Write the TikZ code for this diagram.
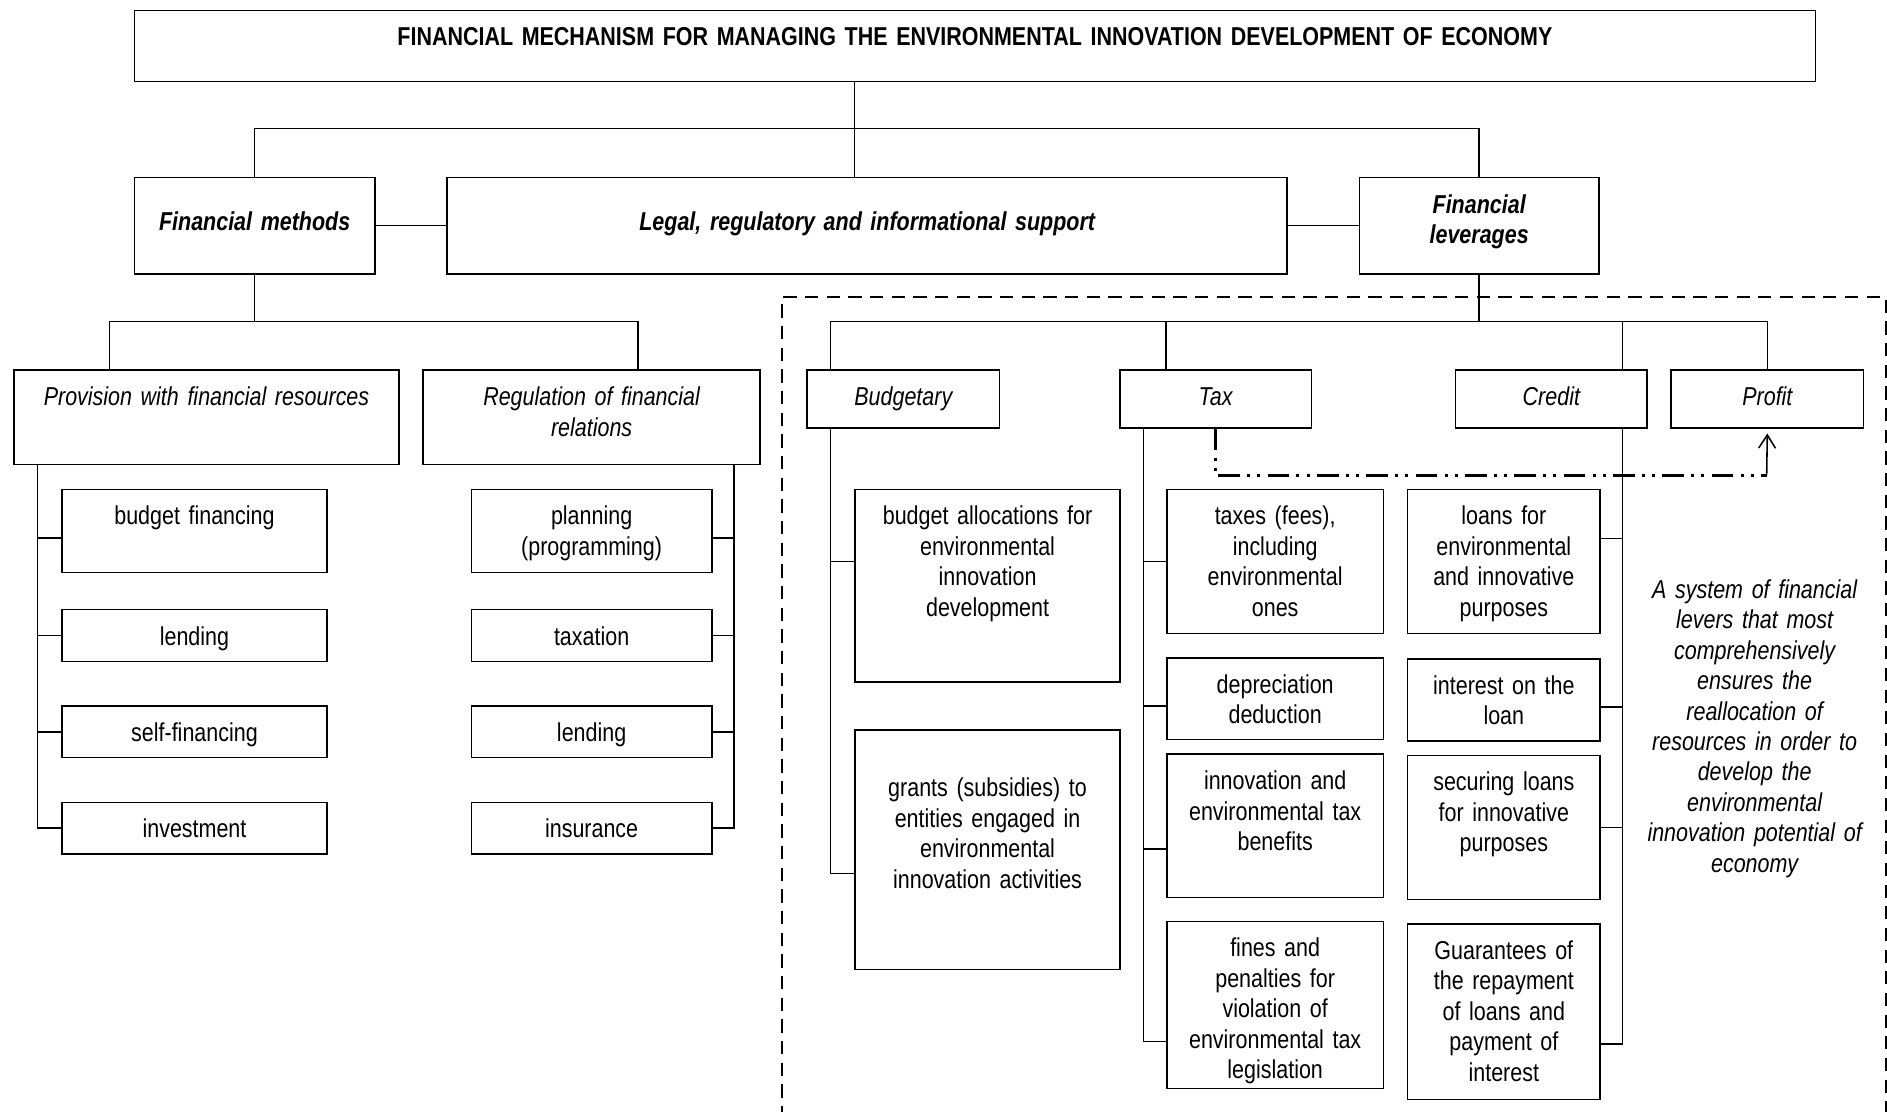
\documentclass[tikz,border=0pt]{standalone}
\usepackage{fontspec}
\setmainfont{Liberation Sans}[FakeStretch=0.83]
\usetikzlibrary{arrows.meta}

\tikzset{
  cell/.style={draw, anchor=north west, inner sep=0pt, align=center, text height=29.5pt},
  head/.style={cell, font=\bfseries\itshape},
  kind/.style={cell, font=\itshape},
  note/.style={anchor=north, inner sep=0pt, align=center, text width=220pt, text height=29.5pt, font=\itshape},
  zone/.style={line width=1.3pt, dash pattern=on 11pt off 7pt},
  leverlink/.style={line width=2.2pt, dash pattern=on 18pt off 6pt on 2.5pt off 6pt on 2.5pt off 6pt},
  leverhead/.style={line width=1.3pt, -{Straight Barb[length=11pt,width=14pt]}, shorten >=4pt},
}

\begin{document}
\fontsize{21.5}{25.3}\selectfont
\begin{tikzpicture}[x=1pt, y=-1pt, line width=1.2pt]
\useasboundingbox (0,0) rectangle (1568,924);
\clip (0,0) rectangle (1568,924);

% region of the financial leverages
\draw[zone] (650,930) -- (650,247) -- (1567,247) -- (1567,930);

% top
\node[cell, font=\bfseries, text width=1397pt, text depth=29.5pt] (mech) at (111,8) {FINANCIAL MECHANISM FOR MANAGING THE ENVIRONMENTAL INNOVATION DEVELOPMENT OF ECONOMY};
\node[head, text width=200pt, text height=44pt, text depth=36pt] (methods) at (111,147) {Financial methods};
\node[head, text width=698pt, text height=44pt, text depth=36pt] (support) at (371,147) {Legal, regulatory and informational support};
\node[head, text width=199pt, text depth=50.5pt] (levers) at (1129,147) {Financial\\leverages};

% financial methods
\node[kind, text width=320pt, text depth=49pt] (provision) at (11,307) {Provision with financial resources};
\node[kind, text width=280pt, text depth=49pt] (regulation) at (351,307) {Regulation of financial\\relations};

\node[cell, text width=220pt, text depth=39.5pt] (budgetfin) at (51,406) {budget financing};
\node[cell, text width=220pt, text depth=13.5pt] (lendingA) at (51,506) {lending};
\node[cell, text width=220pt, text depth=13.5pt] (selffin) at (51,586) {self-financing};
\node[cell, text width=220pt, text depth=13.5pt] (invest) at (51,666) {investment};

\node[cell, text width=200pt, text depth=39.5pt] (planning) at (391,406) {planning\\(programming)};
\node[cell, text width=200pt, text depth=13.5pt] (taxation) at (391,506) {taxation};
\node[cell, text width=200pt, text depth=13.5pt] (lendingB) at (391,586) {lending};
\node[cell, text width=200pt, text depth=13.5pt] (insurance) at (391,666) {insurance};

% financial leverages
\node[kind, text width=160pt, text depth=18.5pt] (budgetary) at (670,307) {Budgetary};
\node[kind, text width=159pt, text depth=18.5pt] (tax) at (930,307) {Tax};
\node[kind, text width=159pt, text depth=18.5pt] (credit) at (1209,307) {Credit};
\node[kind, text width=160pt, text depth=18.5pt] (profit) at (1388,307) {Profit};

\node[cell, text width=220pt, text depth=130.5pt] (allocations) at (710,406) {budget allocations for\\environmental\\innovation\\development};
\node[cell, text width=220pt, text height=55.5pt, text depth=143.5pt] (grants) at (710,606) {grants (subsidies) to\\entities engaged in\\environmental\\innovation activities};

\node[cell, text width=180pt, text depth=90.5pt] (taxes) at (969,406) {taxes (fees),\\including\\environmental\\ones};
\node[cell, text width=180pt, text depth=38.5pt] (depreciation) at (969,546) {depreciation\\deduction};
\node[cell, text width=180pt, text depth=89.5pt] (benefits) at (969,626) {innovation and\\environmental tax\\benefits};
\node[cell, text width=180pt, text depth=109.5pt] (fines) at (969,765) {fines and\\penalties for\\violation of\\environmental tax\\legislation};

\node[cell, text width=160pt, text depth=90.5pt] (loans) at (1169,406) {loans for\\environmental\\and innovative\\purposes};
\node[cell, text width=160pt, text depth=38.5pt] (interest) at (1169,547) {interest on the\\loan};
\node[cell, text width=160pt, text depth=90.5pt] (securing) at (1169,627) {securing loans\\for innovative\\purposes};
\node[cell, text width=160pt, text depth=116.5pt] (guarantees) at (1169,767) {Guarantees of\\the repayment\\of loans and\\payment of\\interest};

\node[note] (sysnote) at (1458,467) {A system of financial\\levers that most\\comprehensively\\ensures the\\reallocation of\\resources in order to\\develop the\\environmental\\innovation potential of\\economy};

% upper links
\coordinate (hub) at (710,107);
\draw (mech.south -| hub) -- (support.north -| hub);
\draw (methods.north) |- (hub) -| (levers.north);
\draw (methods.east) -- (support.west);
\draw (support.east) -- (levers.west);

% methods
\coordinate (pj) at (91,267);
\coordinate (rj) at (530,267);
\draw (methods.south) -- (methods.south |- pj);
\draw (provision.north -| pj) |- (rj) -- (regulation.north -| rj);

% leverages
\coordinate (bj) at (690,267);
\coordinate (tj) at (969,267);
\coordinate (cj) at (1348,267);
\draw (levers.south) -- (levers.south |- bj);
\draw (budgetary.north -| bj) |- (profit.north |- bj) -- (profit.north);
\draw (tj) -- (tax.north -| tj);
\draw (cj) -- (credit.north -| cj);

% left spines
\coordinate (lsp) at (31,385);
\coordinate (rsp) at (610,385);
\draw (provision.south -| lsp) |- (invest.west);
\draw ([yshift=-6pt]budgetfin.west) -- ([yshift=-6pt]budgetfin.west -| lsp);
\draw (lendingA.west) -- (lendingA.west -| lsp);
\draw (selffin.west) -- (selffin.west -| lsp);
\draw (regulation.south -| rsp) |- (insurance.east);
\draw ([yshift=-6pt]planning.east) -- ([yshift=-6pt]planning.east -| rsp);
\draw (taxation.east) -- (taxation.east -| rsp);
\draw (lendingB.east) -- (lendingB.east -| rsp);

% lever spines
\coordinate (tsp) at (950,355);
\draw (budgetary.south -| bj) |- ([yshift=-19.5pt]grants.west);
\draw ([yshift=20pt]allocations.west) -- ([yshift=20pt]allocations.west -| bj);
\draw (tax.south -| tsp) |- ([yshift=-30.5pt]fines.west);
\draw (taxes.west) -- (taxes.west -| tsp);
\draw ([yshift=-6pt]depreciation.west) -- ([yshift=-6pt]depreciation.west -| tsp);
\draw ([yshift=-19.5pt]benefits.west) -- ([yshift=-19.5pt]benefits.west -| tsp);
\draw (credit.south -| cj) |- ([yshift=-27pt]guarantees.east);
\draw ([yshift=19pt]loans.east) -- ([yshift=19pt]loans.east -| cj);
\draw ([yshift=-6pt]interest.east) -- ([yshift=-6pt]interest.east -| cj);
\draw (securing.east) -- (securing.east -| cj);

% tax -> profit
\coordinate (bend) at (1468,395);
\draw[leverlink] (tax.south) |- (bend);
\draw[leverhead] (bend) -- (profit.south);

\end{tikzpicture}
\end{document}
